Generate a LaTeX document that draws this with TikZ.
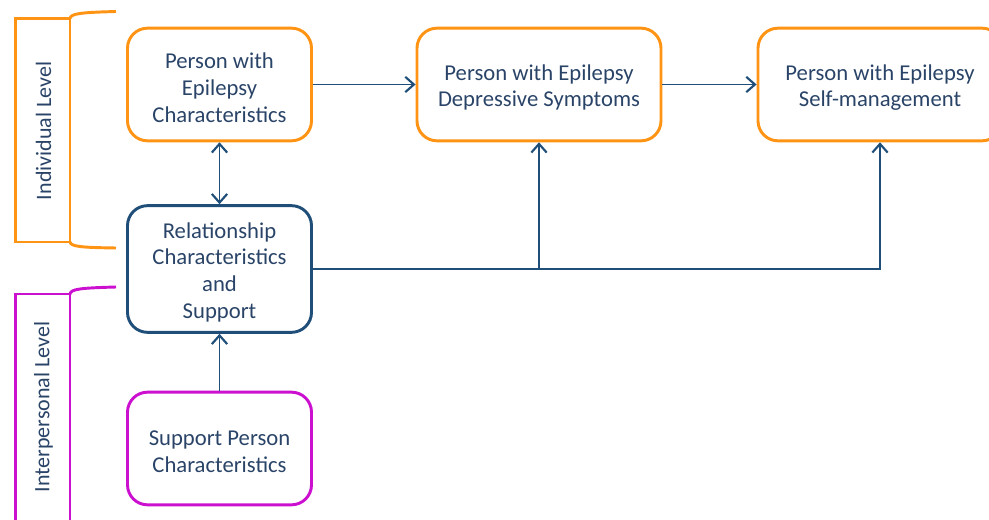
\documentclass[tikz,border=0pt]{standalone}
\usepackage{fontspec}
\setmainfont{Carlito}
\usetikzlibrary{arrows.meta}
\definecolor{orng}{HTML}{FF9414}
\definecolor{navy}{HTML}{1F4E79}
\definecolor{txt}{HTML}{2A4468}
\definecolor{purp}{HTML}{CC10D0}
\tikzset{
  tip/.tip={Straight Barb[length=6.5pt,width=11.5pt,line width=1.6pt]},
  boxtext/.style={align=center, text=txt, font=\fontsize{17}{20}\selectfont, inner sep=0pt, yshift=-2.3pt},
  box/.style={draw, line width=2.2pt, rounded corners=15pt, inner sep=0pt,
    label={[boxtext]center:#1}},
  obox/.style={box=#1, draw=orng},
  bbox/.style={box=#1, draw=navy},
  pbox/.style={box=#1, draw=purp},
  conn/.style={draw=navy, line width=1.15pt, -tip},
  conn2/.style={draw=navy, line width=1.15pt, tip-tip},
  lvl/.style={rotate=90, text=txt, font=\fontsize{16.5}{20}\selectfont, inner sep=0pt},
}
\begin{document}
\begin{tikzpicture}[x=0.75pt,y=-0.75pt]
\useasboundingbox (0,0) rectangle (989,520);
% level brackets
\draw[orng, line width=2.2pt] (15.5,18.5) rectangle (70,242);
\draw[orng, line width=2.2pt] (70,18.5) .. controls (71,13.5) and (80,12.5) .. (116,11.5);
\draw[orng, line width=2.2pt] (70,242) .. controls (71,246.5) and (80,247.5) .. (116,248);
\node[lvl] (indiv) at (43.5,131) {Individual Level};
\draw[purp, line width=2.2pt] (70,294) -- (15.5,294) -- (15.5,530) (70,294) -- (70,530);
\draw[purp, line width=2.2pt] (70,294) .. controls (71,289) and (80,288) .. (116,287);
\node[lvl] (inter) at (43.5,407) {Interpersonal Level};
% boxes
\node[obox={Person with\\Epilepsy\\Characteristics}, minimum width=138pt, minimum height=84.5pt] (pwe) at (219.5,84.5) {};
\node[obox={Person with Epilepsy\\Depressive Symptoms}, minimum width=183pt, minimum height=84.5pt] (dep) at (539,84.5) {};
\node[obox={Person with Epilepsy\\Self-management}, minimum width=183pt, minimum height=84.5pt] (self) at (880,84.5) {};
\node[bbox={Relationship\\Characteristics\\and\\Support}, minimum width=138pt, minimum height=95pt] (rel) at (219.5,269) {};
\node[pbox={Support Person\\Characteristics}, minimum width=138pt, minimum height=84.5pt] (sup) at (219.5,448.5) {};
% connectors
\draw[conn] (pwe.east) -- (dep.west);
\draw[conn] (dep.east) -- (self.west);
\draw[conn2] (pwe.south) -- (rel.north);
\draw[conn] (sup.north) -- (rel.south);
\draw[conn] (rel.east) -- (self.south |- rel.east) -- (self.south);
\draw[conn] (dep.south |- rel.east) -- (dep.south);
\end{tikzpicture}
\end{document}
